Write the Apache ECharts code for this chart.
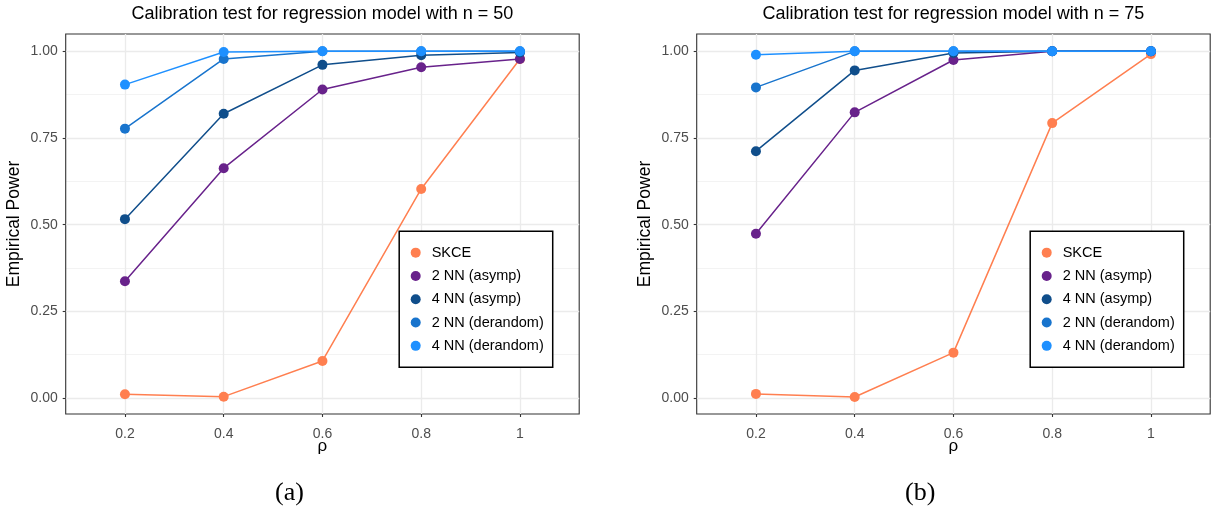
<!DOCTYPE html>
<html>
<head>
<meta charset="utf-8">
<script src="https://cdn.jsdelivr.net/npm/echarts@6/dist/echarts.min.js"></script>
<style>
  html, body { margin: 0; padding: 0; background: #fff; }
  #chart { width: 1211px; height: 513px; }
</style>
</head>
<body>
<div id="chart"></div>
<script>
// rho values on the x axis and their tick labels
const rhoValues = [0.2, 0.4, 0.6, 0.8, 1.0];
const rhoLabels = ['0.2', '0.4', '0.6', '0.8', '1'];
const powerTicks = [0, 0.25, 0.5, 0.75, 1];
const powerTickLabels = ['0.00', '0.25', '0.50', '0.75', '1.00'];
const powerMinorTicks = [0.125, 0.375, 0.625, 0.875];

const seriesNames = ['SKCE', '2 NN (asymp)', '4 NN (asymp)', '2 NN (derandom)', '4 NN (derandom)'];
const seriesColors = ['#FF7F50', '#68228B', '#104E8B', '#1874CD', '#1E90FF'];

// empirical power, n = 50
const skce50      = [0.011, 0.004, 0.107, 0.603, 0.978];
const nn2Asymp50  = [0.337, 0.663, 0.890, 0.954, 0.978];
const nn4Asymp50  = [0.516, 0.820, 0.961, 0.989, 0.997];
const nn2Derand50 = [0.777, 0.978, 1.000, 1.000, 1.000];
const nn4Derand50 = [0.904, 0.998, 1.000, 1.000, 1.000];

// empirical power, n = 75
const skce75      = [0.012, 0.003, 0.131, 0.793, 0.992];
const nn2Asymp75  = [0.474, 0.824, 0.975, 1.000, 1.000];
const nn4Asymp75  = [0.712, 0.945, 0.995, 1.000, 1.000];
const nn2Derand75 = [0.896, 1.000, 1.000, 1.000, 1.000];
const nn4Derand75 = [0.990, 1.000, 1.000, 1.000, 1.000];

const panels = [
  { title: 'Calibration test for regression model with n = 50', tag: '(a)',
    values: [skce50, nn2Asymp50, nn4Asymp50, nn2Derand50, nn4Derand50] },
  { title: 'Calibration test for regression model with n = 75', tag: '(b)',
    values: [skce75, nn2Asymp75, nn4Asymp75, nn2Derand75, nn4Derand75] }
];

const FONT = '"Liberation Sans", Arial, Helvetica, sans-serif';
const gridLefts = [65.7, 696.7];
const gridWidth = 513.5;
const gridTop = 34;
const gridHeight = 380;
const tagCenters = [290, 920];

const option = {
  animation: false,
  backgroundColor: '#ffffff',
  textStyle: { fontFamily: FONT },
  title: [],
  legend: [],
  grid: [],
  xAxis: [],
  yAxis: [],
  series: [],
  graphic: []
};

panels.forEach((p, i) => {
  const left = gridLefts[i];
  option.grid.push({
    left: left, top: gridTop, width: gridWidth, height: gridHeight,
    show: true, borderColor: '#333333', borderWidth: 1.1, backgroundColor: 'transparent',
    containLabel: false
  });

  option.title.push({
    text: p.title,
    left: left + gridWidth / 2, top: 5, textAlign: 'center', padding: 0,
    textStyle: { fontFamily: FONT, fontSize: 18, fontWeight: 'normal', color: '#000' }
  });

  option.xAxis.push({
    type: 'value', gridIndex: i, min: 0.08, max: 1.12,
    name: 'ρ', nameLocation: 'middle', nameGap: 24, nameMoveOverlap: false,
    nameTextStyle: { fontFamily: FONT, fontSize: 17, color: '#000' },
    axisLine: { show: false, onZero: false },
    axisTick: { show: true, length: 3, customValues: rhoValues, lineStyle: { color: '#333333', width: 1.1 } },
    axisLabel: {
      customValues: rhoValues, margin: 13, fontSize: 14, color: '#4D4D4D', fontFamily: FONT,
      formatter: v => rhoLabels[Math.round(v * 5) - 1]
    },
    splitLine: { show: true, lineStyle: { color: '#EBEBEB', width: 1.3 } }
  });

  // main y axis with labelled ticks and major grid lines
  option.yAxis.push({
    type: 'value', gridIndex: i, min: -0.046, max: 1.05,
    name: 'Empirical Power', nameLocation: 'middle', nameGap: 43, nameMoveOverlap: false,
    nameTextStyle: { fontFamily: FONT, fontSize: 17.5, color: '#000' },
    axisLine: { show: false, onZero: false },
    axisTick: { show: true, length: 3, customValues: powerTicks, lineStyle: { color: '#333333', width: 1.1 } },
    axisLabel: {
      customValues: powerTicks, margin: 8, fontSize: 14, color: '#4D4D4D', fontFamily: FONT,
      formatter: v => powerTickLabels[Math.round(v * 4)]
    },
    splitLine: { show: true, lineStyle: { color: '#EBEBEB', width: 1.3 } }
  });

  option.legend.push({
    orient: 'vertical',
    left: left + gridWidth - 180, top: 231.3,
    data: seriesNames,
    icon: 'circle', itemWidth: 10, itemHeight: 10, itemGap: 6.6,
    padding: [13, 9, 13, 11.5],
    borderColor: '#000', borderWidth: 1.5, backgroundColor: '#fff',
    selectedMode: false,
    textStyle: { fontFamily: FONT, fontSize: 14.5, lineHeight: 16.7, color: '#000', padding: [0, 0, 0, 6] }
  });

  option.graphic.push({
    type: 'text', left: tagCenters[i] - 15, top: 480,
    style: { text: p.tag, font: '26px "Liberation Serif", "DejaVu Serif", serif', fill: '#000' }
  });
});

// minor horizontal grid lines, one unlabelled axis per panel
panels.forEach((p, i) => {
  option.yAxis.push({
    type: 'value', gridIndex: i, min: -0.046, max: 1.05,
    axisLine: { show: false, onZero: false },
    axisTick: { show: false, customValues: powerMinorTicks },
    axisLabel: { show: false, customValues: powerMinorTicks },
    splitLine: { show: true, lineStyle: { color: '#F2F2F2', width: 0.9 } },
    z: -1
  });
});

panels.forEach((p, i) => {
  seriesNames.forEach((name, k) => {
    option.series.push({
      name: name, type: 'line', xAxisIndex: i, yAxisIndex: i,
      data: rhoValues.map((x, j) => [x, p.values[k][j]]),
      symbol: 'circle', symbolSize: 10, showSymbol: true,
      color: seriesColors[k],
      lineStyle: { width: 1.5, color: seriesColors[k] },
      itemStyle: { color: seriesColors[k] },
      emphasis: { disabled: true },
      z: 2 + k
    });
  });
});

const chart = echarts.init(document.getElementById('chart'), null, { renderer: 'canvas' });
chart.setOption(option);
</script>
</body>
</html>
